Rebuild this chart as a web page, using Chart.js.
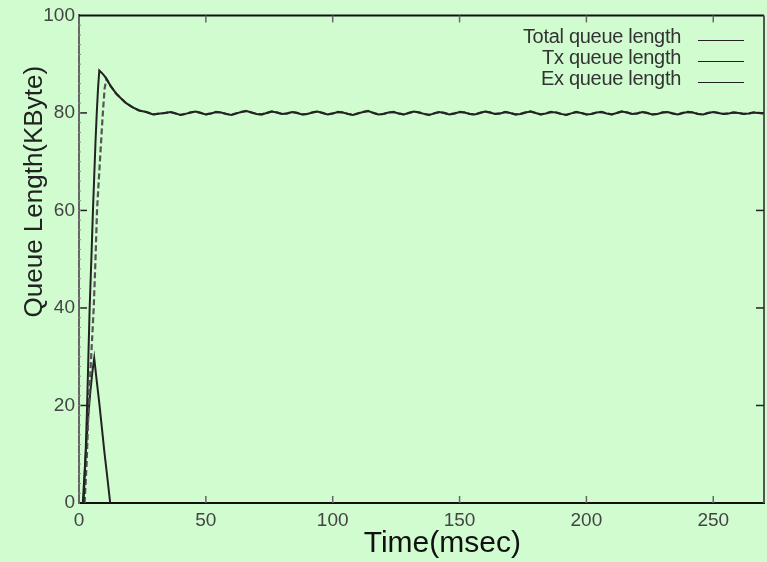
<!doctype html>
<html lang="en">
<head>
<meta charset="utf-8">
<title>Queue Length</title>
<script src="https://cdn.jsdelivr.net/npm/chart.js@4.4.0/dist/chart.umd.min.js"></script>
<style>
  html, body { margin: 0; padding: 0; background: #d0fcd0; }
  .wrap { position: relative; width: 767px; height: 562px; }
  canvas { display: block; }
  .legend { position: absolute; right: 23px; top: 26px; font-family: "Liberation Sans", Arial, sans-serif;
            font-size: 20px; color: #333; letter-spacing: -0.3px; }
  .legend div { height: 21px; line-height: 21px; text-align: right; white-space: nowrap; }
  .legend span.ln { display: inline-block; width: 46px; height: 0; border-top: 1.5px solid #222;
                    margin-left: 17px; vertical-align: middle; position: relative; top: 3px; }
</style>
</head>
<body>
<div class="wrap">
  <canvas id="c" width="767" height="562"></canvas>
  <div class="legend" id="legend"></div>
</div>
<script>
// series (time in msec, queue length in KByte)
const seriesNames = ['Total queue length', 'Tx queue length', 'Ex queue length'];

const totalRiseT = [1.8, 2.6, 3.2, 4.2, 5, 5.5, 6.0, 6.5, 7.0, 7.5, 8.0, 9, 10, 10.8, 12.5, 14.6, 16.5, 18.6, 21, 23.7, 26.5, 29.2];
const totalRiseQ = [0, 10, 20, 40, 52, 60, 67, 74, 80, 85, 88.7, 88.2, 87.6, 87, 85.5, 84, 83, 82, 81.2, 80.5, 80.2, 79.7];

const txRiseT = [2.2, 3, 3.8, 4.8, 5.8, 6.5, 7.1, 8, 8.7, 9.4, 10.1];
const txRiseQ = [0, 8, 20, 30, 40, 50, 60, 68, 74, 80, 85];

const exT = [1.5, 2.5, 3.5, 4.5, 5.3, 6, 7, 8, 9, 10, 11, 12.3];
const exQ = [0, 9, 17, 23, 27, 29.7, 25, 20.5, 15.5, 10.5, 6, 0];

// steady state, shared by total and tx (ex is empty there)
const steadyT = [
  32, 34, 36, 38, 40, 42, 44, 46, 48, 50, 52, 54, 56, 58, 60, 62, 64, 66, 68, 70,
  72, 74, 76, 78, 80, 82, 84, 86, 88, 90, 92, 94, 96, 98, 100, 102, 104, 106, 108, 110,
  112, 114, 116, 118, 120, 122, 124, 126, 128, 130, 132, 134, 136, 138, 140, 142, 144, 146, 148, 150,
  152, 154, 156, 158, 160, 162, 164, 166, 168, 170, 172, 174, 176, 178, 180, 182, 184, 186, 188, 190,
  192, 194, 196, 198, 200, 202, 204, 206, 208, 210, 212, 214, 216, 218, 220, 222, 224, 226, 228, 230,
  232, 234, 236, 238, 240, 242, 244, 246, 248, 250, 252, 254, 256, 258, 260, 262, 264, 266, 268, 270
];
const steadyQ = [
  79.9, 80.0, 80.2, 79.9, 79.6, 79.8, 80.1, 80.3, 80.0, 79.7, 79.9, 80.2, 80.1, 79.8, 79.6, 79.9, 80.2, 80.4, 80.1, 79.8,
  79.7, 80.0, 80.3, 80.1, 79.8, 79.9, 80.2, 80.0, 79.7, 79.8, 80.1, 80.3, 80.0, 79.7, 79.9, 80.2, 80.1, 79.8, 79.6, 79.9,
  80.2, 80.4, 80.0, 79.7, 79.8, 80.1, 80.2, 79.9, 79.7, 80.0, 80.3, 80.1, 79.8, 79.6, 79.9, 80.2, 80.0, 79.7, 79.9, 80.2,
  80.1, 79.8, 79.7, 80.0, 80.3, 80.1, 79.8, 79.9, 80.2, 80.0, 79.7, 79.8, 80.1, 80.3, 80.0, 79.7, 79.9, 80.2, 80.1, 79.8,
  79.6, 79.9, 80.2, 80.0, 79.7, 79.8, 80.1, 80.2, 79.9, 79.7, 80.0, 80.3, 80.1, 79.8, 79.9, 80.2, 80.0, 79.7, 79.8, 80.1,
  80.2, 79.9, 79.7, 80.0, 80.2, 80.1, 79.8, 79.7, 80.0, 80.2, 80.0, 79.8, 79.9, 80.1, 80.0, 79.8, 79.9, 80.1, 80.0, 79.9
];

const xTicks = [0, 50, 100, 150, 200, 250];
const yTicks = [0, 20, 40, 60, 80, 100];

function pts(ts, qs) {
  return ts.map((t, i) => ({ x: t, y: qs[i] }));
}

const totalPts = pts(totalRiseT, totalRiseQ).concat(pts(steadyT, steadyQ));
// tx joins the total curve once the ex queue has drained
const txPts = pts(txRiseT, txRiseQ).concat(totalPts.filter(p => p.x > 10.5));
const exPts = pts(exT, exQ);

const FONT = '"Liberation Sans", Arial, Helvetica, sans-serif';

// frame on top/right + inward tick marks like the original plot
const framePlugin = {
  id: 'frame',
  afterDraw(chart) {
    const { ctx, chartArea: a, scales } = chart;
    ctx.save();
    ctx.lineWidth = 2;
    ctx.strokeStyle = '#111';
    ctx.beginPath(); ctx.moveTo(a.left, a.top); ctx.lineTo(a.right, a.top); ctx.stroke();
    ctx.strokeStyle = '#555';
    ctx.beginPath(); ctx.moveTo(a.right, a.top); ctx.lineTo(a.right, a.bottom); ctx.stroke();

    ctx.lineWidth = 1.5;
    ctx.strokeStyle = '#666';
    xTicks.forEach(v => {
      if (v === 0) return;
      const px = scales.x.getPixelForValue(v);
      ctx.beginPath(); ctx.moveTo(px, a.bottom); ctx.lineTo(px, a.bottom - 7); ctx.stroke();
      ctx.beginPath(); ctx.moveTo(px, a.top); ctx.lineTo(px, a.top + 7); ctx.stroke();
    });
    ctx.strokeStyle = '#222';
    yTicks.forEach(v => {
      if (v === 0 || v === 100) return;
      const py = scales.y.getPixelForValue(v);
      ctx.beginPath(); ctx.moveTo(a.left, py); ctx.lineTo(a.left + 8, py); ctx.stroke();
      ctx.beginPath(); ctx.moveTo(a.right, py); ctx.lineTo(a.right - 8, py); ctx.stroke();
    });
    // minor marks along the left axis
    ctx.lineWidth = 1;
    ctx.strokeStyle = '#888';
    for (let v = 2; v < 100; v += 2) {
      const py = scales.y.getPixelForValue(v);
      ctx.beginPath(); ctx.moveTo(a.left - 1, py); ctx.lineTo(a.left + 2, py); ctx.stroke();
    }
    ctx.restore();
  }
};

new Chart(document.getElementById('c'), {
  type: 'scatter',
  data: {
    datasets: [
      { label: seriesNames[0], data: totalPts, showLine: true, borderColor: '#222', borderWidth: 2,
        pointRadius: 0, tension: 0 },
      { label: seriesNames[1], data: txPts, showLine: true, borderColor: '#555', borderWidth: 2.2,
        borderDash: [6, 3], pointRadius: 0, tension: 0 },
      { label: seriesNames[2], data: exPts, showLine: true, borderColor: '#222', borderWidth: 2,
        pointRadius: 0, tension: 0 },
    ]
  },
  options: {
    responsive: false,
    animation: false,
    layout: { padding: { left: 0, top: 15, right: 3, bottom: 0 } },
    plugins: { legend: { display: false }, tooltip: { enabled: false } },
    scales: {
      x: {
        type: 'linear', min: 0, max: 270,
        afterBuildTicks: s => { s.ticks = xTicks.map(v => ({ value: v })); },
        afterFit: s => { s.height = 59; },
        grid: { display: false, drawTicks: false },
        border: { display: true, color: '#111', width: 2 },
        ticks: { padding: 6, color: '#444', font: { family: FONT, size: 19 } },
        // leading spaces nudge the centred title to the right, as in the original
        title: { display: true, text: '     Time(msec)', color: '#111', padding: { top: 0, bottom: 0 },
                 font: { family: FONT, size: 30 } }
      },
      y: {
        min: 0, max: 100,
        afterBuildTicks: s => { s.ticks = yTicks.map(v => ({ value: v })); },
        afterFit: s => { s.width = 79; },
        grid: { display: false, drawTicks: false },
        border: { display: true, color: '#666', width: 2 },
        ticks: { padding: 4, color: '#444', font: { family: FONT, size: 19 } },
        // end-aligned; trailing spaces keep the text off the top edge
        title: { display: true, text: 'Queue Length(KByte)       ', align: 'end', color: '#222',
                 padding: { top: 19, bottom: 0 }, font: { family: FONT, size: 26 } }
      }
    }
  },
  plugins: [framePlugin]
});

document.getElementById('legend').innerHTML = seriesNames
  .map(n => `<div>${n}<span class="ln"></span></div>`).join('');
</script>
</body>
</html>
